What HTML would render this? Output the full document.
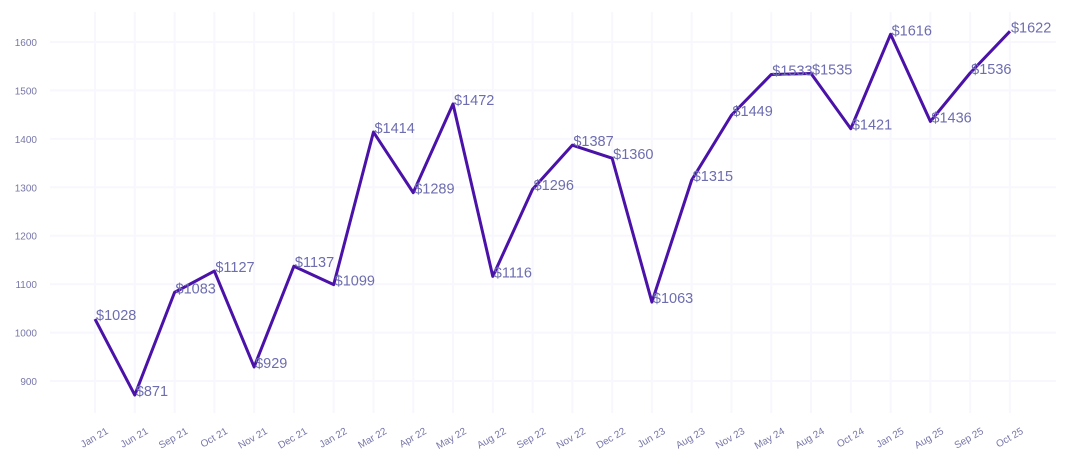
<!DOCTYPE html>
<html><head><style>body{margin:0;background:#fff}svg{display:block}</style></head>
<body>
<svg id="s" width="1070" height="465" xmlns="http://www.w3.org/2000/svg" font-family="Liberation Sans, sans-serif"></svg>
<script>
const d=[1028,871,1083,1127,929,1137,1099,1414,1289,1472,1116,1296,1387,1360,1063,1315,1449,1533,1535,1421,1616,1436,1536,1622];
const L=["Jan 21","Jun 21","Sep 21","Oct 21","Nov 21","Dec 21","Jan 22","Mar 22","Apr 22","May 22","Aug 22","Sep 22","Nov 22","Dec 22","Jun 23","Aug 23","Nov 23","May 24","Aug 24","Oct 24","Jan 25","Aug 25","Sep 25","Oct 25"];
const X=i=>95+i*39.78, Y=v=>42+(1600-v)*0.4843;
let h='';
for(let i=0;i<24;i++){h+=`<line x1="${X(i)}" x2="${X(i)}" y1="12" y2="413" stroke="#f7f7fd" stroke-width="2"/>`;
h+=`<text transform="translate(${X(i)+14},433) rotate(-30)" font-size="10" fill="#7777aa" text-anchor="end">${L[i]}</text>`;}
for(let v=900;v<=1600;v+=100){h+=`<line x1="50" x2="1056" y1="${Y(v)}" y2="${Y(v)}" stroke="#f7f7fd" stroke-width="2"/>`;
h+=`<text x="37" y="${Y(v)+4}" font-size="10" fill="#7777aa" text-anchor="end">${v}</text>`;}
h+=`<polyline fill="none" stroke="#4a12a8" stroke-width="3" stroke-linejoin="round" points="${d.map((v,i)=>X(i)+','+Y(v)).join(' ')}"/>`;
d.forEach((v,i)=>{h+=`<text x="${X(i)+1}" y="${Y(v)+1}" font-size="14.5" fill="#6d6db0">$${v}</text>`;});
document.getElementById('s').innerHTML=h;
</script>
</body></html>
